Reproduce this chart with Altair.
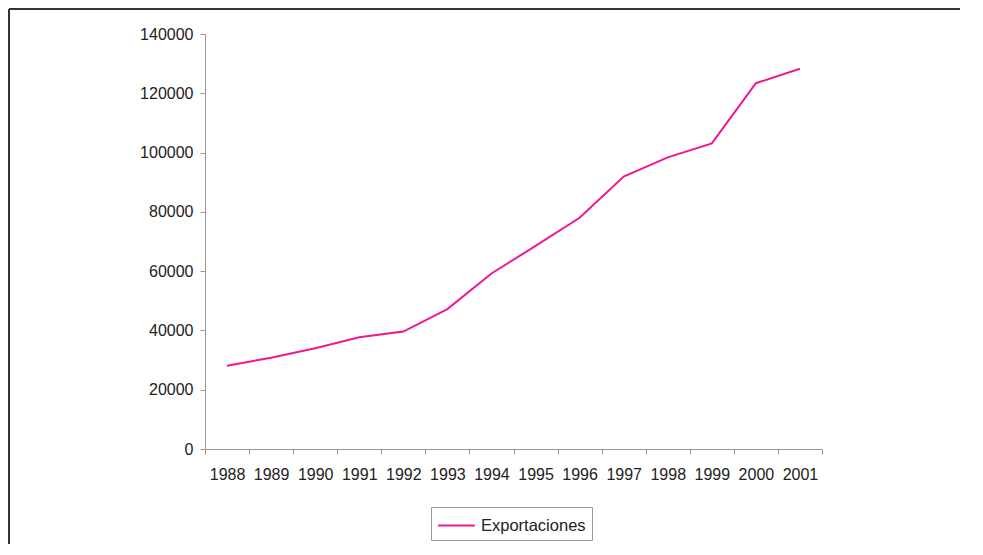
import altair as alt
import pandas as pd

years = ["1988", "1989", "1990", "1991", "1992", "1993", "1994",
         "1995", "1996", "1997", "1998", "1999", "2000", "2001"]
exportaciones = [28100, 30800, 34000, 37700, 39600, 47200, 59200,
                 68500, 78000, 91900, 98400, 103100, 123400, 128300]
series_name = "Exportaciones"
y_ticks = [0, 20000, 40000, 60000, 80000, 100000, 120000, 140000]

df = pd.DataFrame({"year": years, "value": exportaciones, "serie": series_name})

FONT = "Liberation Sans"
PINK = "#F01890"

line = alt.Chart(df).mark_line(strokeWidth=2).encode(
    x=alt.X("year:N", sort=years, bandPosition=0.5,
            scale=alt.Scale(type="band", paddingInner=0, paddingOuter=0),
            axis=alt.Axis(title=None, labelAngle=0, tickBand="extent",
                          labelPadding=12, tickSize=5)),
    y=alt.Y("value:Q",
            scale=alt.Scale(domain=[0, 140000], nice=False),
            axis=alt.Axis(title=None, values=y_ticks,
                          format="d", grid=False, labelPadding=7, tickSize=5)),
    color=alt.Color("serie:N",
                    scale=alt.Scale(domain=[series_name], range=[PINK]),
                    legend=alt.Legend(title=None, orient="none",
                                      legendX=226, legendY=473,
                                      symbolType="M-1.6,0H1.6", symbolSize=529,
                                      symbolStrokeWidth=2, symbolOffset=7,
                                      labelFontSize=16.5, labelFont=FONT,
                                      labelColor="#222",
                                      strokeColor="#999", padding=6,
                                      labelOffset=12)),
)

top_rule = alt.Chart(df).mark_rule(stroke="#333", strokeWidth=2).encode(
    x=alt.value(-196), x2=alt.value(755), y=alt.value(-25),
)
left_rule = alt.Chart(df).mark_rule(stroke="#333", strokeWidth=2).encode(
    x=alt.value(-196), y=alt.value(-25), y2=alt.value(900),
)

chart = alt.layer(top_rule, left_rule, line).properties(
    width=617, height=415,
    padding={"left": 197, "top": 26, "right": 150, "bottom": 95},
    autosize=alt.AutoSizeParams(type="none"),
    background="white",
).configure_view(stroke=None).configure_axis(
    domainColor="#999", tickColor="#999",
    labelFont=FONT, labelFontSize=16, labelColor="#222",
)

chart.save("out.html", embed_options={"renderer": "svg", "actions": False})
